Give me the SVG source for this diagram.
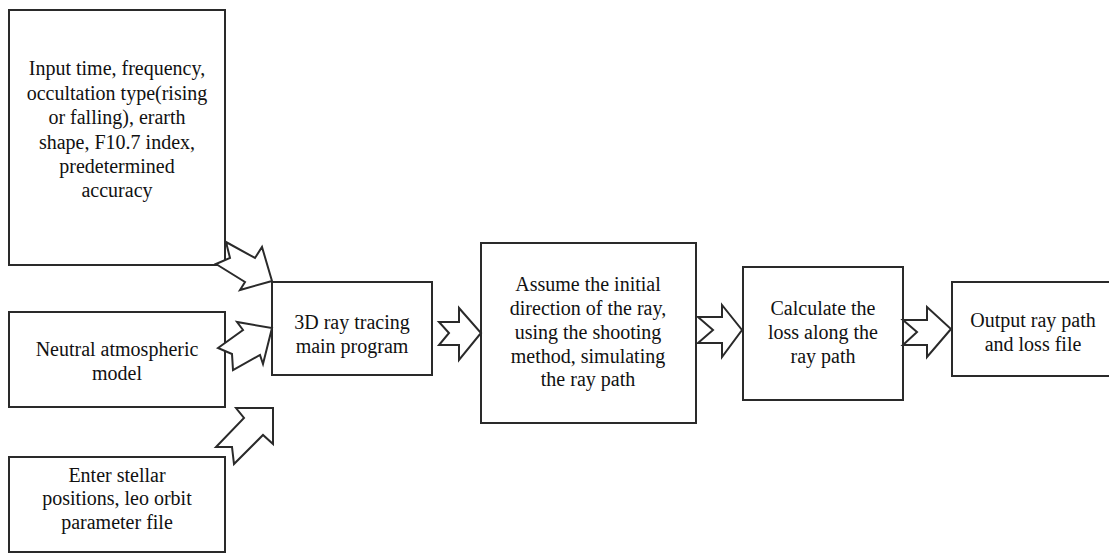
<svg xmlns="http://www.w3.org/2000/svg" width="1109" height="553" viewBox="0 0 1109 553">
<style>
.box{fill:#ffffff;stroke:#2a2a2a;stroke-width:2}
.arr{fill:#ffffff;stroke:#2a2a2a;stroke-width:2;stroke-linejoin:miter}
.t{font-family:'Liberation Serif','DejaVu Serif','Times New Roman',serif;font-size:20px;fill:#111;text-anchor:middle}
</style>
<rect x="0" y="0" width="1109" height="553" fill="#ffffff"/>
<g id="n1">
<rect class="box" x="9" y="10" width="216" height="255"/>
<text class="t" x="117" y="75">Input time, frequency,</text>
<text class="t" x="117" y="100">occultation type(rising</text>
<text class="t" x="117" y="124">or falling), erarth</text>
<text class="t" x="117" y="149">shape, F10.7 index,</text>
<text class="t" x="117" y="173">predetermined</text>
<text class="t" x="117" y="197">accuracy</text>
</g>
<g id="n2">
<rect class="box" x="9" y="312" width="216" height="95"/>
<text class="t" x="117" y="356">Neutral atmospheric</text>
<text class="t" x="117" y="380">model</text>
</g>
<g id="n3">
<rect class="box" x="9" y="457" width="216" height="95"/>
<text class="t" x="117" y="482">Enter stellar</text>
<text class="t" x="117" y="505">positions, leo orbit</text>
<text class="t" x="117" y="529">parameter file</text>
</g>
<g id="n4">
<rect class="box" x="272" y="282" width="160" height="93"/>
<text class="t" x="352" y="329">3D ray tracing</text>
<text class="t" x="352" y="353">main program</text>
</g>
<g id="n5">
<rect class="box" x="481" y="243" width="215" height="180"/>
<text class="t" x="588" y="291">Assume the initial</text>
<text class="t" x="588" y="315">direction of the ray,</text>
<text class="t" x="588" y="339">using the shooting</text>
<text class="t" x="588" y="363">method, simulating</text>
<text class="t" x="588" y="386">the ray path</text>
</g>
<g id="n6">
<rect class="box" x="743" y="267" width="160" height="133"/>
<text class="t" x="823" y="315">Calculate the</text>
<text class="t" x="823" y="339">loss along the</text>
<text class="t" x="823" y="363">ray path</text>
</g>
<g id="n7">
<rect class="box" x="952" y="282" width="162" height="94"/>
<text class="t" x="1033" y="327">Output ray path</text>
<text class="t" x="1033" y="351">and loss file</text>
</g>
<g id="connectors">
<polygon class="arr" points="226,242 255,258 262,247 272,281 240,290 245,282 216,264 230,258"/>
<polygon class="arr" points="218,348 243,330 237,322 272,328 263,364 260,355 233,370 232,354"/>
<polygon class="arr" points="236,408 273,408 273,444 263,435 234,464 232,447 216,447 244,418"/>
<polygon class="arr" points="439,322 459,322 459,308 481,333 459,360 459,345 439,345 449,333"/>
<polygon class="arr" points="698,317 722,317 722,305 742,330 722,357 722,343 698,343 713,330"/>
<polygon class="arr" points="903,320 927,320 927,307 951,329 927,357 927,345 903,345 917,332"/>
</g>
</svg>
